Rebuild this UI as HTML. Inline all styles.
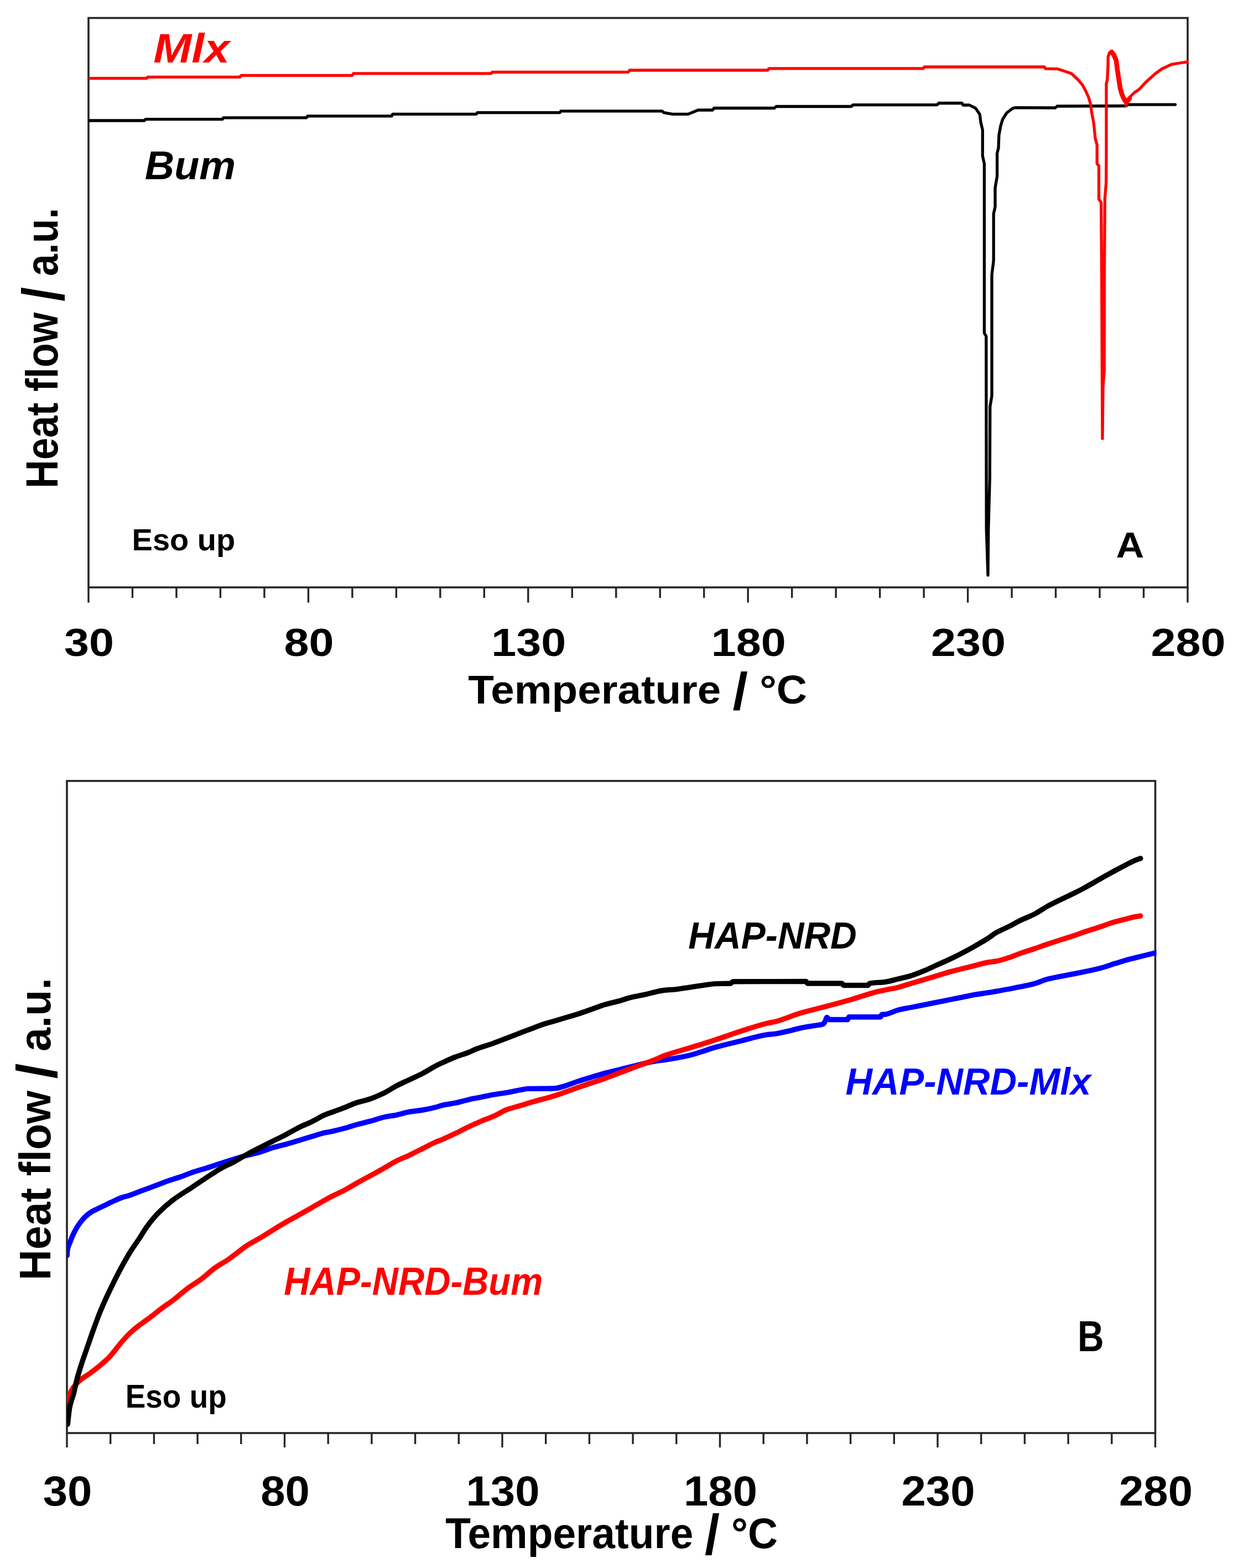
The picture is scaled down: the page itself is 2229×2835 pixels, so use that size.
<!DOCTYPE html>
<html><head><meta charset="utf-8"><title>DSC thermograms</title>
<style>
html,body{margin:0;padding:0;background:#fff;}
svg{display:block;}
text{font-family:"Liberation Sans",Arial,sans-serif;font-weight:bold;font-size:100px;}
</style></head><body>
<svg width="2229" height="2835" viewBox="0 0 2229 2835">
<rect width="2229" height="2835" fill="#fff"/>
<defs>
<clipPath id="cA"><rect x="160" y="32.5" width="1989" height="1029.5"/></clipPath>
<clipPath id="cB"><rect x="121" y="1412" width="1969.5" height="1179"/></clipPath>
</defs>
<rect x="160" y="32.5" width="1987" height="1029.5" fill="none" stroke="#262626" stroke-width="3.6"/>
<path d="M160.00 1062.00V1089.50M239.48 1062.00V1081.00M318.96 1062.00V1081.00M398.44 1062.00V1081.00M477.92 1062.00V1081.00M557.40 1062.00V1089.50M636.88 1062.00V1081.00M716.36 1062.00V1081.00M795.84 1062.00V1081.00M875.32 1062.00V1081.00M954.80 1062.00V1089.50M1034.28 1062.00V1081.00M1113.76 1062.00V1081.00M1193.24 1062.00V1081.00M1272.72 1062.00V1081.00M1352.20 1062.00V1089.50M1431.68 1062.00V1081.00M1511.16 1062.00V1081.00M1590.64 1062.00V1081.00M1670.12 1062.00V1081.00M1749.60 1062.00V1089.50M1829.08 1062.00V1081.00M1908.56 1062.00V1081.00M1988.04 1062.00V1081.00M2067.52 1062.00V1081.00M2147.00 1062.00V1089.50" stroke="#262626" stroke-width="3.4" fill="none"/>
<g clip-path="url(#cA)" fill="none" stroke-linejoin="round" stroke-linecap="round" stroke-width="5.3">
<path d="M158 218 L261 218 L263 215.7 L402 215.7 L404 212.8 L554 212.8 L556 209.9 L708 209.9 L710 206.3 L861 206.3 L863 203.7 L1012 203.7 L1014 200.8 L1197 200.8 L1200 203.6 L1216 206.4 L1244 206.4 L1262 199 L1288 199 L1291 195.5 L1400 195.5 L1403 192.5 L1539 192.5 L1542 189.6 L1694 189.6 L1697 186.5 L1739 186.5 L1741 190 L1752.5 190 L1763.7 195.6 L1771.2 206.8 L1773 221 L1776.3 235 L1776.3 282 L1779.4 296 L1779.4 602 L1782.8 608 L1783.2 956 L1786 1040 L1786.8 956 L1789.3 864 L1789.8 735 L1793 716 L1793 497 L1796.2 471 L1796.2 386.6 L1799 373.7 L1799 340 L1802.6 318.4 L1802.6 277 L1805 267.7 L1805.9 244.3 L1809 227.4 L1812.4 216.2 L1820 204 L1831 195.6 L1836 194.7 L1908 195 L1911 192 L2036 191.5 L2039 189.1 L2124.6 189.1" stroke="#000"/>
<path d="M158 141.6 L265 141.6 L267 139.3 L434 139.3 L436 136.3 L637 136.3 L639 132.8 L888 132.8 L890 130.3 L1136 130.3 L1138 127 L1388 127 L1390 123.9 L1669 123.9 L1671 121 L1888 121 L1890 124.2 L1912 124.7 L1921 127.5 L1937 133 L1949 144.3 L1957 153.7 L1963 165 L1968 176 L1971.5 188 L1973.3 202 L1977 221 L1980 250 L1983.2 262 L1983.2 296 L1986.5 300 L1986.5 360 L1990.6 366 L1991.6 490 L1992.5 700 L1993 793 L1994 700 L1996.2 670 L1996.5 490 L1997.3 360 L1999.7 330 L2000 280 L2000 151 L2001.7 145 L2003 120 L2003.3 102 L2006 95 L2009.4 92.5 L2013 97" stroke="#f00"/>
<path d="M2009.6 94 L2013.5 99 L2017.8 109 L2019.7 124 L2021.6 137 L2023.6 150 L2025.2 160 L2028 170 L2032 179 L2036 185 L2042 178" stroke="#f00" stroke-width="8.6"/>
<path d="M2035.5 191 L2038 186 L2042 176 L2050 168 L2059.5 161.5 L2071 149 L2088.8 133 L2100.5 124.5 L2118 116.3 L2135.6 113.5 L2149 111.6" stroke="#f00"/>
</g>
<text transform="matrix(0.8095 0 0 0.6972 161.00 1186.30)" text-anchor="middle">30</text>
<text transform="matrix(0.8095 0 0 0.6972 558.40 1186.30)" text-anchor="middle">80</text>
<text transform="matrix(0.8095 0 0 0.6972 955.80 1186.30)" text-anchor="middle">130</text>
<text transform="matrix(0.8095 0 0 0.6972 1353.20 1186.30)" text-anchor="middle">180</text>
<text transform="matrix(0.8095 0 0 0.6972 1750.60 1186.30)" text-anchor="middle">230</text>
<text transform="matrix(0.8095 0 0 0.6972 2148.00 1186.30)" text-anchor="middle">280</text>
<text transform="matrix(0.7639 0 0 0.7290 846.24 1272.30)" fill="#000">Temperature <tspan font-size="130" dy="14">/</tspan><tspan dy="-14"> °C</tspan></text>
<text transform="matrix(0 -0.7157 0.8087 0 103.50 883.01)" fill="#000">Heat flow <tspan font-size="130" dy="14">/</tspan><tspan dy="-14"> a.u.</tspan></text>
<text transform="matrix(0.8274 0 0 0.7333 277.35 112.70)" font-style="italic" fill="#f00">Mlx</text>
<text transform="matrix(0.7394 0 0 0.7174 261.82 324.00)" font-style="italic" fill="#000">Bum</text>
<text transform="matrix(0.5602 0 0 0.5507 238.58 995.40)" fill="#000">Eso up</text>
<text transform="matrix(0.7030 0 0 0.6435 2017.49 1007.60)" fill="#000">A</text>
<rect x="121" y="1412" width="1967.5" height="1179" fill="none" stroke="#262626" stroke-width="3.6"/>
<path d="M121.00 2591.00V2617.00M199.70 2591.00V2611.00M278.40 2591.00V2611.00M357.10 2591.00V2611.00M435.80 2591.00V2611.00M514.50 2591.00V2617.00M593.20 2591.00V2611.00M671.90 2591.00V2611.00M750.60 2591.00V2611.00M829.30 2591.00V2611.00M908.00 2591.00V2617.00M986.70 2591.00V2611.00M1065.40 2591.00V2611.00M1144.10 2591.00V2611.00M1222.80 2591.00V2611.00M1301.50 2591.00V2617.00M1380.20 2591.00V2611.00M1458.90 2591.00V2611.00M1537.60 2591.00V2611.00M1616.30 2591.00V2611.00M1695.00 2591.00V2617.00M1773.70 2591.00V2611.00M1852.40 2591.00V2611.00M1931.10 2591.00V2611.00M2009.80 2591.00V2611.00M2088.50 2591.00V2617.00" stroke="#262626" stroke-width="3.4" fill="none"/>
<g clip-path="url(#cB)" fill="none" stroke-linejoin="round" stroke-linecap="round" stroke-width="9.4">
<path d="M121.3 2270.0C121.4 2267.7 121.5 2263.7 121.6 2263.0C123.4 2249.8 125.1 2250.4 126.9 2245.4C129.3 2238.5 131.8 2232.6 134.2 2227.8C137.8 2220.7 141.5 2215.1 145.1 2210.3C148.4 2205.9 151.7 2202.0 155.0 2199.0C158.7 2195.6 162.5 2192.8 166.2 2190.6C170.9 2187.8 175.6 2185.9 180.3 2183.6C185.0 2181.3 189.6 2179.1 194.3 2176.9C199.0 2174.7 203.7 2172.2 208.4 2170.2C213.1 2168.2 217.7 2166.1 222.4 2164.6C226.1 2163.4 229.7 2162.7 233.4 2161.5C241.2 2159.0 249.0 2155.6 256.8 2152.7C264.6 2149.8 272.5 2146.8 280.3 2143.9C288.1 2141.0 295.9 2137.8 303.7 2135.1C311.5 2132.4 319.3 2130.2 327.1 2127.5C334.9 2124.8 342.7 2121.3 350.5 2118.7C358.3 2116.1 366.1 2114.1 373.9 2111.7C381.7 2109.3 389.6 2106.5 397.4 2104.0C406.1 2101.2 414.7 2098.5 423.4 2095.8C431.2 2093.4 439.0 2090.9 446.8 2088.8C454.6 2086.7 462.5 2085.3 470.3 2083.0C478.1 2080.7 485.9 2077.1 493.7 2074.8C501.5 2072.5 509.3 2071.0 517.1 2068.9C524.9 2066.8 532.7 2064.2 540.5 2061.9C548.3 2059.6 556.1 2057.1 563.9 2054.8C571.7 2052.4 579.6 2049.5 587.4 2047.8C591.6 2046.9 595.8 2046.4 600.0 2045.6C607.8 2044.0 615.6 2041.9 623.4 2039.8C631.2 2037.7 639.0 2034.9 646.8 2032.8C654.6 2030.7 662.5 2029.0 670.3 2026.9C678.1 2024.8 685.9 2021.7 693.7 2020.0C701.5 2018.3 709.3 2017.4 717.1 2015.8C724.9 2014.2 732.7 2011.6 740.5 2010.2C748.3 2008.8 756.1 2008.3 763.9 2007.0C771.7 2005.7 779.6 2004.0 787.4 2002.0C791.6 2000.9 795.8 1999.2 800.0 1998.3C807.8 1996.5 815.6 1995.8 823.4 1994.2C831.2 1992.6 839.0 1990.0 846.8 1988.3C854.6 1986.6 862.5 1985.2 870.3 1983.6C878.1 1982.0 885.9 1980.2 893.7 1978.9C901.5 1977.6 909.3 1976.7 917.1 1975.4C924.9 1974.1 932.7 1972.1 940.5 1970.7C945.3 1969.9 950.2 1968.5 955.0 1968.4C970.0 1968.1 985.0 1968.3 1000.0 1968.0C1015.6 1967.7 1031.2 1959.1 1046.8 1954.5C1062.4 1949.9 1078.1 1944.7 1093.7 1940.4C1109.3 1936.1 1124.9 1932.4 1140.5 1928.7C1156.1 1925.0 1171.8 1920.6 1187.4 1918.2C1191.6 1917.6 1195.8 1917.2 1200.0 1916.6C1215.6 1914.3 1231.2 1911.6 1246.8 1908.0C1262.4 1904.4 1278.1 1897.7 1293.7 1893.4C1309.3 1889.1 1324.9 1885.5 1340.5 1881.7C1356.1 1877.9 1371.8 1872.7 1387.4 1870.6C1391.6 1870.0 1395.8 1869.9 1400.0 1869.3C1407.8 1868.3 1415.6 1866.3 1423.4 1864.6C1431.2 1862.9 1439.0 1860.4 1446.8 1858.8C1454.6 1857.2 1462.5 1856.1 1470.3 1854.7C1476.1 1853.7 1482.0 1853.8 1487.8 1851.7C1489.2 1851.2 1490.6 1848.5 1492.0 1846.0C1492.9 1844.4 1493.9 1839.4 1494.8 1839.4C1496.4 1839.4 1497.9 1843.5 1499.5 1843.5C1510.4 1843.5 1521.4 1843.5 1532.3 1843.5C1533.1 1843.5 1533.9 1838.8 1534.7 1838.8C1553.8 1838.8 1572.9 1838.8 1592.0 1838.8C1592.7 1838.8 1593.3 1834.4 1594.0 1834.3C1596.0 1834.1 1598.0 1834.2 1600.0 1834.0C1607.8 1833.4 1615.6 1828.2 1623.4 1826.2C1631.2 1824.2 1639.0 1823.0 1646.8 1821.5C1654.6 1819.9 1662.5 1818.5 1670.3 1816.9C1678.1 1815.4 1685.9 1813.8 1693.7 1812.2C1701.5 1810.6 1709.3 1809.1 1717.1 1807.5C1724.9 1805.9 1732.7 1804.4 1740.5 1802.8C1748.3 1801.2 1756.1 1799.4 1763.9 1798.1C1771.7 1796.8 1779.6 1795.8 1787.4 1794.6C1791.6 1793.9 1795.8 1793.2 1800.0 1792.5C1811.7 1790.5 1823.3 1788.3 1835.0 1786.0C1846.7 1783.7 1858.3 1781.6 1870.0 1778.5C1877.9 1776.4 1885.8 1772.4 1893.7 1770.3C1909.3 1766.2 1924.9 1764.1 1940.5 1760.9C1957.0 1757.5 1973.5 1754.5 1990.0 1750.2C1998.6 1748.0 2007.2 1744.7 2015.8 1742.1C2024.4 1739.5 2032.9 1736.7 2041.5 1734.4C2050.1 1732.1 2058.7 1730.1 2067.3 1728.0C2076.2 1725.8 2085.1 1723.7 2094.0 1721.5" stroke="#00f"/>
<path d="M121.4 2533.0C124.3 2526.2 127.1 2517.1 130.0 2512.5C135.0 2504.5 140.1 2499.7 145.1 2495.3C151.0 2490.2 156.8 2487.3 162.7 2483.0C168.6 2478.7 174.4 2474.3 180.3 2469.4C186.1 2464.5 192.0 2459.7 197.8 2453.6C200.2 2451.1 202.6 2447.9 205.0 2445.0C210.1 2438.8 215.2 2431.8 220.3 2426.0C226.1 2419.3 232.0 2412.9 237.8 2407.6C243.7 2402.3 249.5 2398.0 255.4 2393.5C261.3 2389.0 267.1 2385.2 273.0 2380.8C278.8 2376.4 284.7 2371.4 290.5 2367.0C298.5 2360.9 306.6 2355.8 314.6 2349.6C322.8 2343.3 331.0 2335.6 339.2 2329.5C347.4 2323.4 355.6 2318.8 363.8 2312.7C372.0 2306.6 380.2 2298.5 388.4 2292.6C396.6 2286.7 404.8 2282.7 413.0 2277.0C416.5 2274.6 419.9 2271.9 423.4 2269.3C431.2 2263.5 439.0 2256.9 446.8 2251.8C454.6 2246.7 462.5 2243.0 470.3 2238.3C478.1 2233.6 485.9 2228.5 493.7 2223.7C501.5 2218.9 509.3 2214.1 517.1 2209.6C524.9 2205.1 532.7 2201.1 540.5 2196.7C548.3 2192.3 556.1 2187.8 563.9 2183.3C571.7 2178.8 579.6 2174.1 587.4 2169.8C591.6 2167.5 595.8 2165.2 600.0 2163.0C607.8 2159.0 615.6 2155.7 623.4 2151.6C631.2 2147.5 639.0 2142.6 646.8 2138.2C654.6 2133.8 662.5 2129.6 670.3 2125.3C678.1 2121.0 685.9 2116.8 693.7 2112.4C701.5 2108.0 709.3 2102.8 717.1 2098.9C724.9 2095.0 732.7 2092.1 740.5 2088.4C748.3 2084.7 756.1 2080.6 763.9 2076.7C771.7 2072.8 779.6 2068.4 787.4 2065.0C791.6 2063.2 795.8 2061.8 800.0 2060.0C807.8 2056.7 815.6 2052.9 823.4 2049.2C831.2 2045.5 839.0 2041.2 846.8 2037.5C854.6 2033.8 862.5 2030.3 870.3 2027.0C878.1 2023.7 885.9 2021.1 893.7 2017.6C901.5 2014.1 909.3 2008.8 917.1 2005.9C924.9 2003.0 932.7 2001.3 940.5 1999.0C948.3 1996.7 956.1 1994.2 963.9 1992.0C975.9 1988.5 988.0 1985.7 1000.0 1982.0C1015.6 1977.2 1031.2 1971.0 1046.8 1965.6C1062.4 1960.2 1078.1 1955.4 1093.7 1949.8C1109.3 1944.2 1124.9 1937.8 1140.5 1932.0C1156.1 1926.1 1171.8 1921.2 1187.4 1914.7C1191.6 1913.0 1195.8 1910.6 1200.0 1909.0C1215.6 1903.1 1231.2 1899.4 1246.8 1894.6C1262.4 1889.8 1278.1 1885.1 1293.7 1880.0C1309.3 1874.9 1324.9 1869.1 1340.5 1864.1C1356.1 1859.1 1371.8 1853.6 1387.4 1850.0C1391.6 1849.0 1395.8 1848.5 1400.0 1847.5C1415.6 1843.8 1431.2 1836.4 1446.8 1831.8C1462.4 1827.2 1478.1 1823.7 1493.7 1819.5C1509.3 1815.3 1524.9 1811.2 1540.5 1806.7C1556.1 1802.2 1571.8 1796.3 1587.4 1792.6C1591.6 1791.6 1595.8 1790.9 1600.0 1790.0C1607.8 1788.4 1615.6 1787.1 1623.4 1785.2C1631.2 1783.3 1639.0 1780.5 1646.8 1778.2C1654.6 1775.9 1662.5 1773.5 1670.3 1771.2C1678.1 1768.9 1685.9 1766.5 1693.7 1764.2C1701.5 1761.9 1709.3 1759.2 1717.1 1757.1C1724.9 1755.0 1732.7 1753.2 1740.5 1751.3C1748.3 1749.4 1756.1 1747.3 1763.9 1745.4C1771.7 1743.4 1779.6 1740.9 1787.4 1739.6C1791.6 1738.9 1795.8 1738.7 1800.0 1738.0C1807.8 1736.7 1815.6 1734.1 1823.4 1731.6C1831.2 1729.1 1839.0 1725.6 1846.8 1722.9C1854.6 1720.2 1862.5 1717.9 1870.3 1715.2C1878.1 1712.6 1885.9 1709.6 1893.7 1707.0C1901.5 1704.4 1909.3 1701.9 1917.1 1699.4C1924.9 1696.9 1932.7 1694.6 1940.5 1692.0C1946.6 1690.0 1952.6 1687.6 1958.7 1685.5C1965.0 1683.4 1971.2 1681.4 1977.5 1679.4C1983.7 1677.4 1990.0 1675.4 1996.2 1673.3C2002.5 1671.2 2008.7 1668.6 2015.0 1666.8C2021.2 1665.0 2027.5 1663.7 2033.7 1662.1C2039.9 1660.5 2046.2 1658.5 2052.4 1657.4C2055.5 1656.8 2058.7 1656.5 2061.8 1656.0" stroke="#f00"/>
<path d="M122.3 2575.0C123.5 2565.1 124.6 2551.5 125.8 2545.4C128.3 2532.3 130.8 2528.7 133.3 2519.0C135.3 2511.1 137.4 2500.4 139.4 2492.7C142.0 2482.7 144.7 2474.5 147.3 2466.3C150.3 2457.0 153.3 2449.0 156.3 2440.3C160.3 2428.7 164.4 2416.6 168.4 2405.4C172.8 2393.2 177.2 2381.0 181.6 2370.3C186.9 2357.5 192.1 2346.2 197.4 2335.1C203.8 2321.7 210.1 2308.9 216.5 2297.0C222.7 2285.3 229.0 2273.9 235.2 2263.9C240.5 2255.4 245.7 2248.5 251.0 2240.5C256.1 2232.8 261.1 2223.9 266.2 2217.0C272.6 2208.2 279.1 2200.3 285.5 2193.7C294.3 2184.6 303.1 2177.1 311.9 2170.3C323.6 2161.3 335.3 2154.6 347.0 2146.8C358.7 2139.0 370.4 2130.9 382.1 2123.4C388.1 2119.6 394.0 2115.5 400.0 2112.2C407.8 2107.8 415.6 2104.7 423.4 2100.5C431.2 2096.3 439.0 2091.3 446.8 2087.0C454.6 2082.7 462.5 2078.8 470.3 2074.8C478.1 2070.8 485.9 2066.9 493.7 2063.0C501.5 2059.1 509.3 2055.4 517.1 2051.3C524.9 2047.2 532.7 2042.4 540.5 2038.5C548.3 2034.6 556.1 2031.7 563.9 2027.9C571.7 2024.1 579.6 2018.9 587.4 2015.6C591.6 2013.8 595.8 2012.5 600.0 2011.0C607.8 2008.1 615.6 2005.3 623.4 2002.3C631.2 1999.3 639.0 1995.4 646.8 1993.0C650.7 1991.8 654.6 1991.1 658.5 1990.0C662.4 1988.9 666.4 1987.8 670.3 1986.5C678.1 1983.8 685.9 1980.4 693.7 1976.6C701.5 1972.8 709.3 1967.2 717.1 1963.1C724.9 1959.0 732.7 1955.7 740.5 1952.0C748.3 1948.3 756.1 1944.9 763.9 1940.8C771.7 1936.7 779.6 1931.5 787.4 1927.4C791.6 1925.2 795.8 1923.2 800.0 1921.3C807.8 1917.7 815.6 1914.0 823.4 1911.0C831.2 1908.0 839.0 1905.9 846.8 1902.8C851.2 1901.1 855.6 1898.7 860.0 1897.0C870.5 1892.9 881.1 1890.2 891.6 1886.4C902.1 1882.6 912.7 1878.3 923.2 1874.3C933.7 1870.3 944.3 1866.1 954.8 1862.2C965.4 1858.2 975.9 1854.0 986.5 1850.6C991.0 1849.2 995.5 1848.0 1000.0 1846.7C1007.8 1844.4 1015.6 1842.0 1023.4 1839.7C1031.2 1837.4 1039.0 1835.2 1046.8 1832.7C1054.6 1830.2 1062.5 1827.2 1070.3 1824.5C1078.1 1821.8 1085.9 1818.6 1093.7 1816.3C1101.5 1814.0 1109.3 1812.5 1117.1 1810.4C1124.9 1808.3 1132.7 1805.3 1140.5 1803.4C1148.3 1801.5 1156.1 1800.4 1163.9 1798.7C1171.7 1797.0 1179.6 1794.6 1187.4 1792.9C1191.6 1792.0 1195.8 1791.0 1200.0 1790.5C1207.8 1789.6 1215.6 1789.4 1223.4 1788.6C1231.2 1787.8 1239.0 1786.3 1246.8 1785.1C1254.6 1783.9 1262.5 1782.7 1270.3 1781.6C1278.1 1780.5 1285.9 1778.9 1293.7 1778.6C1302.8 1778.3 1311.9 1778.5 1321.0 1778.0C1322.3 1777.9 1323.7 1774.8 1325.0 1774.8C1350.0 1774.6 1375.0 1774.7 1400.0 1774.6C1419.0 1774.5 1438.0 1774.4 1457.0 1774.4C1458.0 1774.4 1459.0 1778.0 1460.0 1778.0C1480.7 1778.0 1501.3 1778.0 1522.0 1778.0C1523.0 1778.0 1524.0 1781.5 1525.0 1781.5C1539.7 1781.5 1554.3 1781.5 1569.0 1781.5C1570.0 1781.5 1571.0 1778.2 1572.0 1778.0C1581.3 1776.0 1590.7 1776.7 1600.0 1775.5C1607.8 1774.5 1615.6 1771.9 1623.4 1770.0C1631.2 1768.1 1639.0 1766.5 1646.8 1764.2C1654.6 1761.9 1662.5 1758.6 1670.3 1755.4C1678.1 1752.2 1685.9 1748.3 1693.7 1744.8C1701.5 1741.3 1709.3 1738.0 1717.1 1734.3C1724.9 1730.6 1732.7 1726.7 1740.5 1722.6C1748.3 1718.5 1756.1 1714.2 1763.9 1709.7C1771.7 1705.2 1779.6 1700.8 1787.4 1695.7C1791.6 1693.0 1795.8 1689.3 1800.0 1686.8C1807.8 1682.2 1815.6 1679.3 1823.4 1675.4C1831.2 1671.5 1839.0 1666.9 1846.8 1663.1C1854.6 1659.3 1862.5 1656.6 1870.3 1652.6C1878.1 1648.6 1885.9 1642.8 1893.7 1638.5C1901.5 1634.2 1909.3 1630.6 1917.1 1626.8C1924.9 1623.0 1932.7 1619.4 1940.5 1615.5C1946.6 1612.5 1952.6 1609.5 1958.7 1606.3C1965.0 1602.9 1971.2 1599.2 1977.5 1595.6C1983.7 1592.0 1990.0 1588.3 1996.2 1584.8C2002.5 1581.3 2008.7 1577.9 2015.0 1574.5C2021.2 1571.2 2027.5 1567.9 2033.7 1564.7C2039.9 1561.5 2046.2 1557.8 2052.4 1555.3C2055.5 1554.0 2058.7 1553.1 2061.8 1552.0" stroke="#000"/>
</g>
<text transform="matrix(0.7970 0 0 0.7620 122.00 2721.64)" text-anchor="middle">30</text>
<text transform="matrix(0.7970 0 0 0.7620 515.50 2721.64)" text-anchor="middle">80</text>
<text transform="matrix(0.7970 0 0 0.7620 909.00 2721.64)" text-anchor="middle">130</text>
<text transform="matrix(0.7970 0 0 0.7620 1302.50 2721.64)" text-anchor="middle">180</text>
<text transform="matrix(0.7970 0 0 0.7620 1696.00 2721.64)" text-anchor="middle">230</text>
<text transform="matrix(0.7970 0 0 0.7620 2089.50 2721.64)" text-anchor="middle">280</text>
<text transform="matrix(0.7490 0 0 0.7841 805.25 2798.80)" fill="#000">Temperature <tspan font-size="130" dy="14">/</tspan><tspan dy="-14"> °C</tspan></text>
<text transform="matrix(0 -0.7721 0.7899 0 91.00 2315.00)" fill="#000">Heat flow <tspan font-size="130" dy="14">/</tspan><tspan dy="-14"> a.u.</tspan></text>
<text transform="matrix(0.6605 0 0 0.6826 1244.28 1714.80)" font-style="italic" fill="#000">HAP-NRD</text>
<text transform="matrix(0.6716 0 0 0.6899 1528.46 1978.80)" font-style="italic" fill="#00f">HAP-NRD-Mlx</text>
<text transform="matrix(0.6534 0 0 0.7014 513.19 2341.20)" font-style="italic" fill="#f00">HAP-NRD-Bum</text>
<text transform="matrix(0.5488 0 0 0.6000 226.76 2544.60)" fill="#000">Eso up</text>
<text transform="matrix(0.6590 0 0 0.7739 1947.89 2442.60)" fill="#000">B</text>
</svg>
</body></html>
